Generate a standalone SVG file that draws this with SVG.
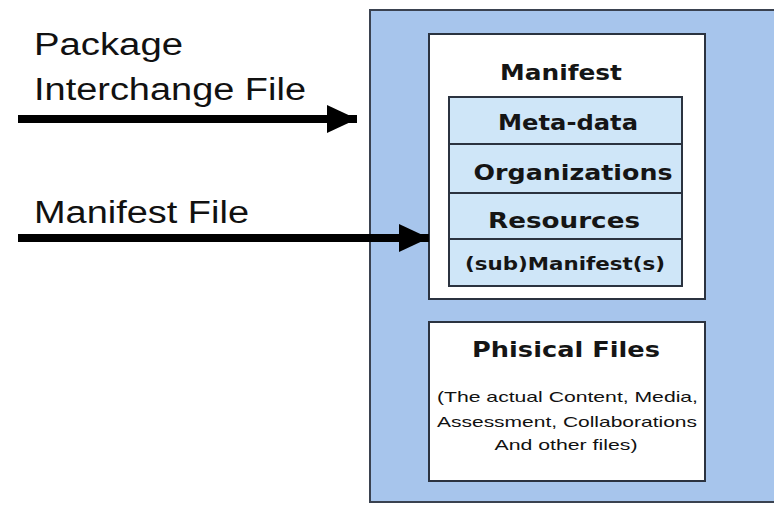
<svg xmlns="http://www.w3.org/2000/svg" width="774" height="506" viewBox="0 0 774 506">
  <style>
    .lbl { font-family: "Liberation Sans", Arial, sans-serif; fill: #111; }
    .big { font-size: 31px; }
    .b { font-family: "DejaVu Sans", "Liberation Sans", sans-serif; font-weight: bold; text-anchor: middle; fill: #151515; }
    .box { fill: #ffffff; stroke: #2b3340; stroke-width: 2; }
    .row { fill: #cfe6f8; stroke: #2b3340; stroke-width: 2; }
    .conn { stroke: #000; stroke-width: 8; fill: none; }
  </style>
  <defs>
    <marker id="head" markerUnits="userSpaceOnUse" markerWidth="30" markerHeight="28" refX="30" refY="14" orient="auto">
      <path d="M0,0 L30,14 L0,28 Z" fill="#000"/>
    </marker>
  </defs>
  <rect width="774" height="506" fill="#ffffff"/>

  <!-- package container -->
  <g id="package">
    <rect x="370" y="10" width="410" height="492" fill="#a7c5ec" stroke="#3a4250" stroke-width="2"/>
  </g>

  <!-- manifest with its sections -->
  <g id="manifest">
    <rect class="box" x="429" y="34" width="276" height="265"/>
    <text class="b" x="561" y="80" font-size="21" textLength="122" lengthAdjust="spacingAndGlyphs">Manifest</text>
  </g>
  <g id="metadata">
    <rect class="row" x="449" y="97" width="233" height="47"/>
    <text class="b" x="568" y="130" font-size="21" textLength="140" lengthAdjust="spacingAndGlyphs">Meta-data</text>
  </g>
  <g id="organizations">
    <rect class="row" x="449" y="144" width="233" height="49"/>
    <text class="b" x="573" y="180" font-size="21" textLength="199" lengthAdjust="spacingAndGlyphs">Organizations</text>
  </g>
  <g id="resources">
    <rect class="row" x="449" y="193" width="233" height="46"/>
    <text class="b" x="564" y="228" font-size="21" textLength="152" lengthAdjust="spacingAndGlyphs">Resources</text>
  </g>
  <g id="submanifests">
    <rect class="row" x="449" y="239" width="233" height="47"/>
    <text class="b" x="565" y="270" font-size="18" textLength="200" lengthAdjust="spacingAndGlyphs">(sub)Manifest(s)</text>
  </g>

  <!-- physical files -->
  <g id="physical-files">
    <rect class="box" x="429" y="322" width="276" height="159"/>
    <text class="b" x="566" y="357" font-size="22" textLength="188" lengthAdjust="spacingAndGlyphs">Phisical Files</text>
    <text class="lbl" x="437" y="402" font-size="14.5" textLength="261" lengthAdjust="spacingAndGlyphs">(The actual Content, Media,</text>
    <text class="lbl" x="437" y="427" font-size="14.5" textLength="260" lengthAdjust="spacingAndGlyphs">Assessment, Collaborations</text>
    <text class="lbl" x="566" y="450" font-size="14.5" text-anchor="middle" textLength="143" lengthAdjust="spacingAndGlyphs">And other files)</text>
  </g>

  <!-- input labels -->
  <g id="pif-label">
    <text class="lbl big" x="34" y="55" textLength="149" lengthAdjust="spacingAndGlyphs">Package</text>
    <text class="lbl big" x="34" y="100" textLength="272" lengthAdjust="spacingAndGlyphs">Interchange File</text>
  </g>
  <g id="mf-label">
    <text class="lbl big" x="34" y="223" textLength="215" lengthAdjust="spacingAndGlyphs">Manifest File</text>
  </g>

  <!-- connectors -->
  <g id="connectors">
    <line class="conn" x1="18" y1="119" x2="357" y2="119" marker-end="url(#head)"/>
    <line class="conn" x1="18" y1="238" x2="429" y2="238" marker-end="url(#head)"/>
  </g>
</svg>
